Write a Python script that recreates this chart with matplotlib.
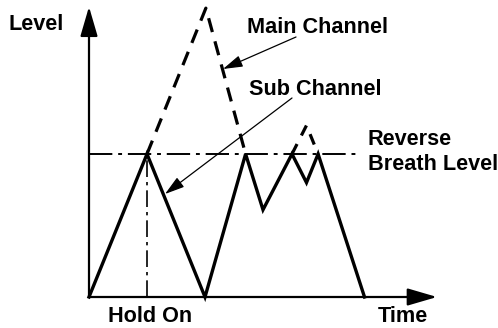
#!/usr/bin/env python3
"""
Reverse breath level diagram: main / sub channel level over time
"""

import matplotlib.pyplot as plt

# time axis units (arbitrary), level units: reverse breath level = 1.0
sub_time = [0.0, 2.0, 4.0, 5.4, 6.0, 7.0, 7.5, 7.9, 9.5]
sub_level = [0.0, 1.0, 0.0, 1.0, 0.61, 1.0, 0.80, 1.0, 0.0]

main_time = [2.0, 4.03, 5.4]
main_level = [1.0, 2.02, 1.0]
main_bump_time = [7.0, 7.5, 7.9]
main_bump_level = [1.0, 1.20, 1.0]

breath_level = 1.0
hold_on_time = 2.0
time_end = 12.0
level_top = 2.03

fig = plt.figure(figsize=(4.98, 3.28), dpi=100)
ax = fig.add_axes([0, 0, 1, 1])
ax.set_xlim(-89 / 29, (498 - 89) / 29)
ax.set_ylim(-31 / 143, 297 / 143)
ax.axis('off')

font = dict(family='Liberation Sans', fontweight='bold', fontsize=15.6,
            color='black', va='baseline')

# axes with arrow heads
arrow = dict(arrowstyle='-|>,head_length=1.3,head_width=0.38', mutation_scale=14,
             lw=1.6, color='black', shrinkA=0, shrinkB=0)
ax.annotate('', xy=(0, level_top), xytext=(0, 0), arrowprops=arrow)
ax.annotate('', xy=(time_end, 0), xytext=(0, 0), arrowprops=arrow)

# reverse breath level and hold-on marker
ax.plot([0, 9.3], [breath_level, breath_level], color='black', lw=1.4,
        dashes=(12, 3, 2, 3))
ax.plot([hold_on_time, hold_on_time], [0, breath_level], color='black', lw=1.2,
        dashes=(10, 3, 2, 3))

# channels
ax.plot(main_time, main_level, color='black', lw=2.3, dashes=(4.5, 3))
ax.plot(main_bump_time, main_bump_level, color='black', lw=2.3, dashes=(3.5, 3))
ax.plot(sub_time, sub_level, color='black', lw=2.4, solid_joinstyle='miter')

# labels
ax.text(-2.76, 1.867, 'Level', ha='left', **font)
ax.text(5.45, 1.846, 'Main Channel', ha='left', **font)
ax.text(5.5, 1.413, 'Sub Channel', ha='left', **font)
ax.text(9.62, 1.063, 'Reverse', ha='left', **font)
ax.text(9.62, 0.888, 'Breath Level', ha='left', **font)
ax.text(2.12, -0.172, 'Hold On', ha='center', **font)
ax.text(9.97, -0.178, 'Time', ha='left', **font)

# pointer arrows
thin = dict(arrowstyle='-|>,head_length=1.0,head_width=0.3', mutation_scale=12,
            lw=0.9, color='black', shrinkA=0, shrinkB=0)
ax.annotate('', xy=((223 - 89) / 29, (297 - 69) / 143),
            xytext=((296 - 89) / 29, (297 - 37) / 143), arrowprops=thin)
ax.annotate('', xy=((165 - 89) / 29, (297 - 194) / 143),
            xytext=((292 - 89) / 29, (297 - 98) / 143), arrowprops=thin)

plt.savefig('out.png', dpi=100)
plt.close()
